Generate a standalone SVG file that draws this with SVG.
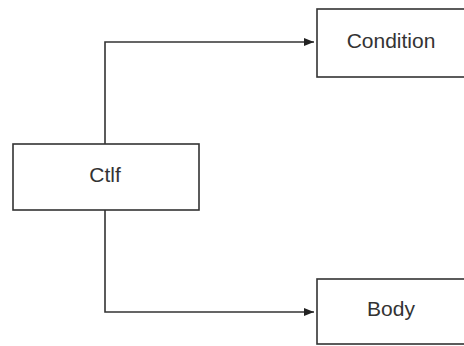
<svg xmlns="http://www.w3.org/2000/svg" width="464" height="346" viewBox="0 0 464 346">
<style>
.box{fill:#fff;stroke:#333;stroke-width:1.6}
.lbl{font-family:"Liberation Sans",Arial,sans-serif;font-size:21px;fill:#333;text-anchor:middle}
.edge{fill:none;stroke:#333;stroke-width:1.6}
</style>
<defs>
<marker id="arr" markerWidth="10" markerHeight="8" refX="10" refY="4" orient="auto" markerUnits="userSpaceOnUse">
<path d="M0,0 L10,4 L0,8 Z" fill="#222"/>
</marker>
</defs>
<rect width="464" height="346" fill="#fff"/>
<g id="connectors">
<path class="edge" d="M105,144 V42 H314" marker-end="url(#arr)"/>
<path class="edge" d="M105,210 V312 H314" marker-end="url(#arr)"/>
</g>
<g id="ctlf">
<rect class="box" x="13" y="144" width="186" height="66"/>
<text class="lbl" x="105" y="182">Ctlf</text>
</g>
<g id="condition">
<rect class="box" x="317" y="9" width="149" height="68"/>
<text class="lbl" x="391" y="47.5">Condition</text>
</g>
<g id="body">
<rect class="box" x="317" y="279" width="149" height="65"/>
<text class="lbl" x="391" y="316">Body</text>
</g>
</svg>
